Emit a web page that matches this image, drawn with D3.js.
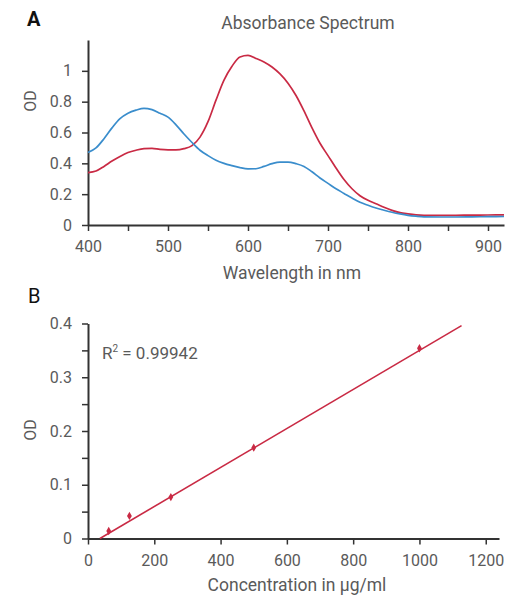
<!DOCTYPE html>
<html>
<head>
<meta charset="utf-8">
<script src="https://cdn.jsdelivr.net/npm/d3@7"></script>
<style>
  body { margin: 0; background: #fff; }
  svg { display: block; }
  text { font-family: Roboto, "Liberation Sans", sans-serif; }
</style>
</head>
<body>
<svg id="chart" width="528" height="595"></svg>
<script>
// ---- Panel A data: absorbance spectrum ----
const wavelengths = [400,410,420,430,440,450,460,470,480,490,500,510,520,530,540,550,560,570,580,590,600,610,620,630,640,650,660,670,680,690,700,710,720,730,740,750,760,770,780,790,800,810,820,840,860,880,900,920];
const blueOD = [0.47,0.50,0.56,0.63,0.69,0.725,0.745,0.757,0.748,0.725,0.70,0.65,0.59,0.535,0.485,0.45,0.42,0.40,0.385,0.372,0.364,0.365,0.38,0.398,0.408,0.408,0.398,0.38,0.345,0.305,0.27,0.235,0.205,0.175,0.148,0.128,0.11,0.096,0.083,0.072,0.063,0.057,0.053,0.052,0.052,0.053,0.054,0.055];
const redOD = [0.34,0.35,0.38,0.415,0.445,0.47,0.485,0.495,0.497,0.49,0.487,0.487,0.495,0.515,0.57,0.67,0.81,0.94,1.03,1.09,1.10,1.08,1.058,1.025,0.98,0.92,0.84,0.74,0.63,0.53,0.45,0.37,0.295,0.235,0.19,0.16,0.138,0.115,0.095,0.08,0.072,0.066,0.063,0.062,0.063,0.064,0.065,0.066];
const aXTicks = [400,450,500,550,600,650,700,750,800,850,900];
const aXLabels = [400,500,600,700,800,900];
const aYTicks = [0,0.2,0.4,0.6,0.8,1];

// ---- Panel B data: standard curve ----
const concentrations = [62.5,125,250,500,1000];
const measuredOD = [0.014,0.042,0.077,0.169,0.354];
const fitConc = [36,1127];
const fitOD = [0,0.396];
const bXTicks = [0,200,400,600,800,1000,1200];
const bYTicks = [0,0.05,0.1,0.15,0.2,0.25,0.3,0.35,0.4];
const bYLabels = [0,0.1,0.2,0.3,0.4];
const rSquared = "0.99942";

const red = "#c92a44";
const blue = "#3a8dcc";
const axisColor = "#333";
const textColor = "#5a5a5a";

const svg = d3.select("#chart");

function styleAxis(g) {
  g.select(".domain").attr("stroke", axisColor).attr("stroke-width", 2);
  g.selectAll(".tick line").attr("stroke", axisColor).attr("stroke-width", 1.5);
  g.selectAll(".tick text").attr("fill", textColor).style("font-size", "16px");
}

// ================= Panel A =================
const ax = d3.scaleLinear().domain([400,920]).range([88,504]);
const ay = d3.scaleLinear().domain([0,1.2]).range([225,40]);

svg.append("g").attr("transform", `translate(0,${ay(0)})`)
  .call(d3.axisBottom(ax).tickValues(aXTicks).tickSize(6).tickSizeOuter(0)
    .tickPadding(10)
    .tickFormat(d => aXLabels.includes(d) ? d : ""))
  .call(styleAxis);

svg.append("g").attr("transform", `translate(${ax(400)},0)`)
  .call(d3.axisLeft(ay).tickValues(aYTicks).tickSize(6).tickSizeOuter(0)
    .tickPadding(10)
    .tickFormat(d => d === 0 ? "0" : (d === 1 ? "1" : d3.format(".1f")(d))))
  .call(styleAxis);

const lineA = (vals) => d3.line()
  .x((d, i) => ax(wavelengths[i]))
  .y(d => ay(d))
  .curve(d3.curveMonotoneX)(vals);

svg.append("path").attr("d", lineA(redOD)).attr("fill", "none")
  .attr("stroke", red).attr("stroke-width", 1.7);
svg.append("path").attr("d", lineA(blueOD)).attr("fill", "none")
  .attr("stroke", blue).attr("stroke-width", 1.7);

svg.append("text").attr("x", 27).attr("y", 26).text("A")
  .attr("font-weight", "bold").style("font-size", "20px").attr("fill", "#111");
svg.append("text").attr("x", 308).attr("y", 29).attr("text-anchor", "middle")
  .text("Absorbance Spectrum").style("font-size", "17.5px").attr("fill", textColor);
svg.append("text").attr("transform", "translate(36,101) rotate(-90)")
  .attr("text-anchor", "middle").text("OD").style("font-size", "16px").attr("fill", textColor);
svg.append("text").attr("x", 292).attr("y", 279).attr("text-anchor", "middle")
  .text("Wavelength in nm").style("font-size", "17.5px").attr("fill", textColor);

// ================= Panel B =================
const bx = d3.scaleLinear().domain([0,1240]).range([88,499]);
const by = d3.scaleLinear().domain([0,0.4]).range([538.5,323.5]);

svg.append("g").attr("transform", `translate(0,${by(0)})`)
  .call(d3.axisBottom(bx).tickValues(bXTicks).tickSize(6).tickSizeOuter(0)
    .tickPadding(10).tickFormat(d3.format("d")))
  .call(styleAxis);

svg.append("g").attr("transform", `translate(${bx(0)},0)`)
  .call(d3.axisLeft(by).tickValues(bYTicks).tickSize(6).tickSizeOuter(0)
    .tickPadding(10)
    .tickFormat(d => bYLabels.some(v => Math.abs(v - d) < 1e-9) ? (d === 0 ? "0" : d3.format(".1f")(d)) : ""))
  .call(styleAxis);

svg.append("path")
  .attr("d", d3.line().x((d, i) => bx(fitConc[i])).y(d => by(d))(fitOD))
  .attr("fill", "none").attr("stroke", red).attr("stroke-width", 1.6);

svg.append("g").selectAll("path.pt").data(measuredOD).join("path")
  .attr("class", "pt")
  .attr("transform", (d, i) => `translate(${bx(concentrations[i])},${by(d)})`)
  .attr("d", d3.symbol().type(d3.symbolDiamond).size(20))
  .attr("fill", red);

svg.append("text").attr("x", 28).attr("y", 303).text("B")
  .style("font-size", "20px").attr("fill", "#111");
const r2 = svg.append("text").attr("x", 102).attr("y", 359)
  .style("font-size", "17px").attr("fill", textColor);
r2.append("tspan").text("R");
r2.append("tspan").attr("dy", -7).style("font-size", "10px").text("2");
r2.append("tspan").attr("dy", 7).text(" = " + rSquared);
svg.append("text").attr("transform", "translate(36,430) rotate(-90)")
  .attr("text-anchor", "middle").text("OD").style("font-size", "16px").attr("fill", textColor);
svg.append("text").attr("x", 297).attr("y", 591).attr("text-anchor", "middle")
  .text("Concentration in µg/ml").style("font-size", "17.5px").attr("fill", textColor);
</script>
</body>
</html>
